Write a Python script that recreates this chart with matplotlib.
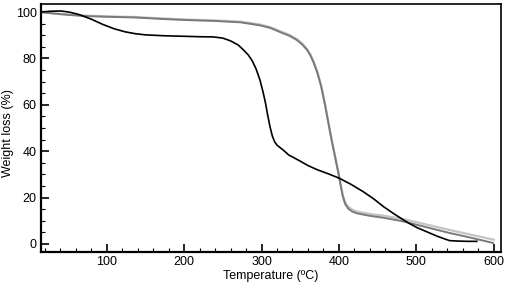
import matplotlib
matplotlib.use("Agg")
import matplotlib.pyplot as plt
from matplotlib.ticker import MultipleLocator

plt.rcParams['font.family'] = ['Liberation Sans', 'DejaVu Sans']

# Black sample
t_black = [16, 28, 41, 52, 64, 80, 95, 110, 124, 137, 150, 175, 198, 220, 238, 250, 260, 270, 277,
           283, 288, 293, 298, 302, 305, 308, 311, 314, 317, 320, 328, 335, 350, 360, 372, 385, 400,
           415, 431, 445, 457, 470, 483, 492, 501, 515, 527, 536, 543, 555, 566, 578]
w_black = [100.1, 100.4, 100.5, 100.0, 99.0, 97.0, 94.7, 92.8, 91.5, 90.7, 90.2, 89.8, 89.6, 89.4, 89.3,
           88.8, 87.6, 85.8, 83.6, 81.5, 79.0, 75.5, 70.7, 65.5, 61.0, 55.5, 50.5, 46.5, 44.0, 42.6, 40.5,
           38.4, 35.7, 33.8, 32.0, 30.4, 28.4, 25.8, 22.6, 19.4, 16.2, 13.2, 10.4, 8.6, 7.0, 5.0, 3.3, 2.2,
           1.4, 1.2, 1.1, 1.1]

# Dark gray sample
t_dgray = [16, 34, 55, 73, 100, 137, 170, 202, 240, 273, 298, 312, 324, 336, 346, 353, 359, 363, 367,
           372, 377, 382, 387, 391, 395, 399, 402, 405, 408, 412, 417, 423, 440, 457, 480, 500, 520, 543,
           570, 599]
w_dgray = [100.0, 99.3, 98.7, 98.3, 98.0, 97.7, 97.1, 96.6, 96.2, 95.6, 94.3, 93.1, 91.4, 89.8, 87.9,
           85.9, 83.6, 81.4, 78.5, 74.0, 68.0, 60.0, 51.0, 44.0, 37.5, 31.0, 25.5, 20.5, 17.2, 15.2, 14.0,
           13.2, 12.1, 11.3, 9.9, 8.3, 6.6, 4.7, 2.7, 0.4]

# Light gray sample
t_lgray = [16, 34, 55, 73, 100, 137, 170, 202, 240, 273, 298, 312, 324, 336, 346, 353, 359, 363, 367,
           372, 377, 382, 387, 391, 395, 399, 402, 405, 408, 412, 417, 423, 440, 457, 480, 500, 520, 543,
           570, 600]
w_lgray = [100.0, 99.4, 98.9, 98.5, 98.2, 97.9, 97.3, 96.8, 96.4, 95.9, 94.7, 93.5, 91.8, 90.2, 88.3,
           86.3, 84.0, 81.8, 78.9, 74.3, 68.3, 60.3, 51.3, 44.3, 37.8, 31.3, 26.0, 21.0, 18.0, 16.0, 14.8,
           14.0, 12.9, 12.2, 10.9, 9.4, 7.8, 6.0, 4.0, 1.8]

fig = plt.figure(figsize=(5.10, 2.88), dpi=100)
ax = fig.add_axes([0.080, 0.125, 0.902, 0.861])

ax.plot(t_lgray, w_lgray, color='#c4c4c4', lw=1.6, zorder=2)
ax.plot(t_dgray, w_dgray, color='#7a7a7a', lw=1.4, zorder=3)
ax.plot(t_black, w_black, color='black', lw=1.2, zorder=4)

ax.set_xlim(15, 609)
ax.set_ylim(-3.5, 103.5)
ax.xaxis.set_major_locator(MultipleLocator(100))
ax.xaxis.set_minor_locator(MultipleLocator(20))
ax.yaxis.set_major_locator(MultipleLocator(20))
ax.yaxis.set_minor_locator(MultipleLocator(5))
ax.set_xticks(range(100, 601, 100))
ax.tick_params(which='major', direction='in', length=6, width=1.2, labelsize=9, pad=3)
ax.tick_params(which='minor', direction='in', length=3, width=0.8)
ax.tick_params(top=False, right=False, which='both')

for side in ['left', 'bottom']:
    ax.spines[side].set_linewidth(1.6)
for side in ['top', 'right']:
    ax.spines[side].set_linewidth(1.2)

ax.set_xlabel('Temperature (ºC)', fontsize=9, labelpad=1)
ax.set_ylabel('Weight loss (%)', fontsize=9, va='center')
ax.yaxis.set_label_coords(-0.071, 0.48)

fig.savefig('out.png', dpi=100)
